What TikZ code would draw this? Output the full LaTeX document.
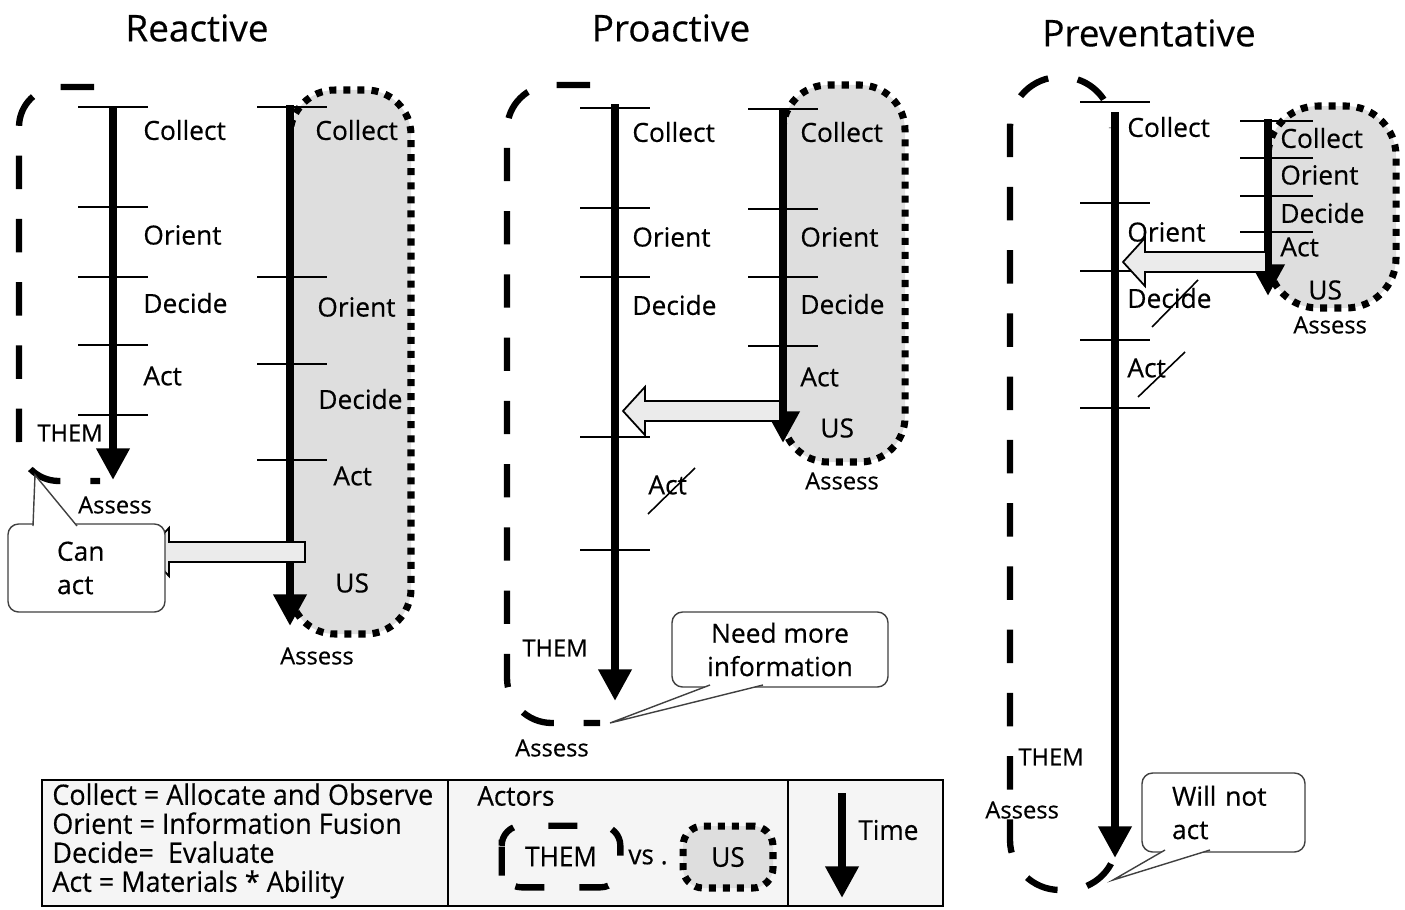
\documentclass[tikz,border=0pt]{standalone}
\usepackage{fontspec}
\setmainfont{Open Sans}[FakeBold=0.4]
\newfontfamily\legendfont[FakeStretch=0.96,FakeBold=0.4]{Open Sans}
\usetikzlibrary{arrows.meta}
\usetikzlibrary{calc}

\newcommand\hollowarrow[2]{%
  \draw[hollow] let \p1=(#1), \p2=(#2) in
    (\x1,\y2+5.7pt) -- (\x2+12.5pt,\y2+5.7pt) -- (\x2+12.5pt,\y2+13.7pt) -- (\x2,\y2)
    -- (\x2+12.5pt,\y2-13.7pt) -- (\x2+12.5pt,\y2-5.7pt) -- (\x1,\y2-5.7pt) -- cycle;}

\begin{document}
\begin{tikzpicture}[x=0.02cm,y=-0.02cm,
  every node/.style={inner sep=0pt,font=\fontsize{15}{18}\selectfont},
  phase/.style={anchor=west},
  title/.style={font=\fontsize{21}{25}\selectfont},
  small/.style={font=\fontsize{13.5}{16}\selectfont},
  timeline/.style={line width=4.7pt,-{Triangle[length=18pt,width=18pt]}},
  tick/.style={line width=1.4pt},
  them/.style={line width=3.6pt,dash pattern=on 19pt off 17pt,rounded corners=0.8cm},
  us/.style={line width=4pt,dash pattern=on 4pt off 4pt,fill=black!13,rounded corners=0.9cm},
  strike/.style={line width=0.9pt},
  callout/.style={draw=black!75,line width=0.8pt,fill=white,rounded corners=6pt,font=\fontsize{15}{19}\selectfont},
  tail/.style={draw=black!75,line width=0.8pt},
  hollow/.style={draw,line width=1pt,fill=black!8,line join=miter},
  legend/.style={font=\legendfont\fontsize{15.5}{18}\selectfont}]
  \useasboundingbox (0,0) rectangle (1405,909);

  \node[title] (reactive) at (197,28) {Reactive};
  \node[title] (proactive) at (671,28) {Proactive};
  \node[title] (preventative) at (1149,33) {Preventative};

  \filldraw[us] (290,90) rectangle (411,634);
  \filldraw[us] (783,85) rectangle (905,462);
  \filldraw[us,rounded corners=1cm] (1268,106) rectangle (1396,308);

  \draw[them] (94,87) -- (19,87) -- (19,481) -- (100,481);
  \draw[them,rounded corners=0.9cm] (590,85) -- (507,85) -- (507,723) -- (600,723);
  \draw[them,rounded corners=1cm,dash phase=18.8pt] (1112,128) -- (1112,77) -- (1010,77) -- (1010,890) -- (1117,890) -- (1117,835);

  \foreach \y in {107,207,277,345,415} \draw[tick] (78,\y) -- (148,\y);
  \foreach \y in {107,277,364,460} \draw[tick] (257,\y) -- (327,\y);
  \foreach \y in {108,208,277,437,550} \draw[tick] (580,\y) -- (650,\y);
  \foreach \y in {109,209,277,346} \draw[tick] (748,\y) -- (818,\y);
  \foreach \y in {102,203,271,340,408} \draw[tick] (1080,\y) -- (1150,\y);
  \foreach \y in {121,158,196,232} \draw[tick] (1240,\y) -- (1313,\y);

  \coordinate (rthem0) at (113,106);
  \coordinate (rthem1) at (113,480);
  \coordinate (rus0) at (290,105);
  \coordinate (rus1) at (290,626);
  \coordinate (pthem0) at (615,104);
  \coordinate (pthem1) at (615,701);
  \coordinate (pus0) at (783,108);
  \coordinate (pus1) at (783,443);
  \coordinate (vthem0) at (1115,112);
  \coordinate (vthem1) at (1115,858);
  \coordinate (vus0) at (1268,119);
  \coordinate (vus1) at (1268,296);
  \draw[timeline] (rthem0) -- (rthem1);
  \draw[timeline] (rus0) -- (rus1);
  \draw[timeline] (pthem0) -- (pthem1);
  \draw[timeline] (pus0) -- (pus1);
  \draw[timeline] (vthem0) -- (vthem1);
  \draw[timeline] (vus0) -- (vus1);

  \node[phase] (rcollect) at (143,130) {Collect};
  \node[phase] (rorient) at (143,235) {Orient};
  \node[phase] (rdecide) at (143,303) {Decide};
  \node[phase] (ract) at (143,376) {Act};
  \node[phase,small] (rthem) at (37,433) {THEM};
  \node[small] (rassess) at (115,505) {Assess};
  \node[phase] (rcollect2) at (315,130) {Collect};
  \node[phase] (rorient2) at (317,307) {Orient};
  \node[phase] (rdecide2) at (318,399) {Decide};
  \node[phase] (ract2) at (333,476) {Act};
  \node[phase] (rus) at (335,583) {US};
  \node[small] (rassess2) at (317,656) {Assess};

  \node[phase] (pcollect) at (632,132) {Collect};
  \node[phase] (porient) at (632,237) {Orient};
  \node[phase] (pdecide) at (632,305) {Decide};
  \node[phase] (pact) at (648,485) {Act};
  \draw[strike] (648,514) -- (695,468);
  \node[phase,small] (pthem) at (522,648) {THEM};
  \node[small] (passess) at (552,748) {Assess};
  \node[phase] (pcollect2) at (800,132) {Collect};
  \node[phase] (porient2) at (800,237) {Orient};
  \node[phase] (pdecide2) at (800,304) {Decide};
  \node[phase] (pact2) at (800,377) {Act};
  \node[phase] (pus) at (820,428) {US};
  \node[small] (passess2) at (842,481) {Assess};

  \node[phase] (vcollect) at (1127,127) {Collect};
  \node[phase] (vorient) at (1127,232) {Orient};
  \node[phase] (vdecide) at (1127,298) {Decide};
  \node[phase] (vact) at (1127,368) {Act};
  \draw[strike] (1152,327) -- (1198,280);
  \draw[strike] (1138,397) -- (1185,352);
  \node[phase,small] (vthem) at (1018,757) {THEM};
  \node[phase,small] (vassess) at (985,810) {Assess};
  \node[phase] (vcollect2) at (1280,138) {Collect};
  \node[phase] (vorient2) at (1280,175) {Orient};
  \node[phase] (vdecide2) at (1280,213) {Decide};
  \node[phase] (vact2) at (1280,247) {Act};
  \node[phase] (vus) at (1308,290) {US};
  \node[phase,small] (vassess2) at (1293,325) {Assess};

  \coordinate (rfrom) at (305,552);
  \coordinate (rto) at (147,552);
  \coordinate (pfrom) at (780,411);
  \coordinate (pto) at (623,411);
  \coordinate (vfrom) at (1266,262);
  \coordinate (vto) at (1123,262);
  \hollowarrow{rfrom}{rto}
  \hollowarrow{pfrom}{pto}
  \hollowarrow{vfrom}{vto}

  \node[callout,minimum width=3.14cm,minimum height=1.76cm,inner xsep=0.98cm,text width=1.18cm,align=left] (canact) at (86.5,568) {Can\\act};
  \node[callout,minimum width=4.32cm,minimum height=1.5cm,align=center] (needinfo) at (780,649.5) {Need more\\information};
  \node[callout,minimum width=3.26cm,minimum height=1.58cm,inner xsep=0.6cm,text width=2.06cm,align=left] (willnot) at (1223.5,812.5) {Will not\\act};

  \coordinate (canactpt) at (35,475);
  \coordinate (needinfopt) at (610,723);
  \coordinate (willnotpt) at (1113,880);
  \fill[white] (canactpt) -- (33,526) -- (77,526) -- cycle;
  \draw[tail] (33,526) -- (canactpt) -- (77,526);
  \fill[white] (needinfopt) -- (710,685) -- (763,685) -- cycle;
  \draw[tail] (710,685) -- (needinfopt) -- (763,685);
  \fill[white] (willnotpt) -- (1165,850) -- (1210,850) -- cycle;
  \draw[tail] (1165,850) -- (willnotpt) -- (1210,850);

  \draw[line width=1.6pt,fill=black!4] (42,780) rectangle (943,906);
  \draw[line width=1.2pt] (448,780) -- (448,906);
  \draw[line width=1.2pt] (788,780) -- (788,906);
  \node[anchor=west,align=left,font=\legendfont\fontsize{16}{16.5}\selectfont] (defs) at (52,841)
    {Collect = Allocate and Observe\\Orient = Information Fusion\\Decide=\ \ Evaluate\\Act = Materials * Ability};
  \node[phase,legend] (actors) at (477,796) {Actors};
  \node[legend,minimum width=2.36cm,minimum height=1.22cm] (legthem) at (561,856.5) {THEM};
  \draw[them,rounded corners=0.4cm,dash pattern=on 16.5pt off 20pt,dash phase=34.7pt]
    (legthem.west) -- (legthem.north west) -- (legthem.north east) -- (legthem.south east) -- (legthem.south west) -- cycle;
  \node[phase,legend] (vs) at (628,857) {vs .};
  \node[draw,us,legend,rounded corners=0.4cm,minimum width=1.8cm,minimum height=1.24cm] (legus) at (728,857) {US};
  \coordinate (time0) at (842,793);
  \coordinate (time1) at (842,898);
  \draw[timeline] (time0) -- (time1);
  \node[phase,legend] (time) at (858,830) {Time};
\end{tikzpicture}
\end{document}
